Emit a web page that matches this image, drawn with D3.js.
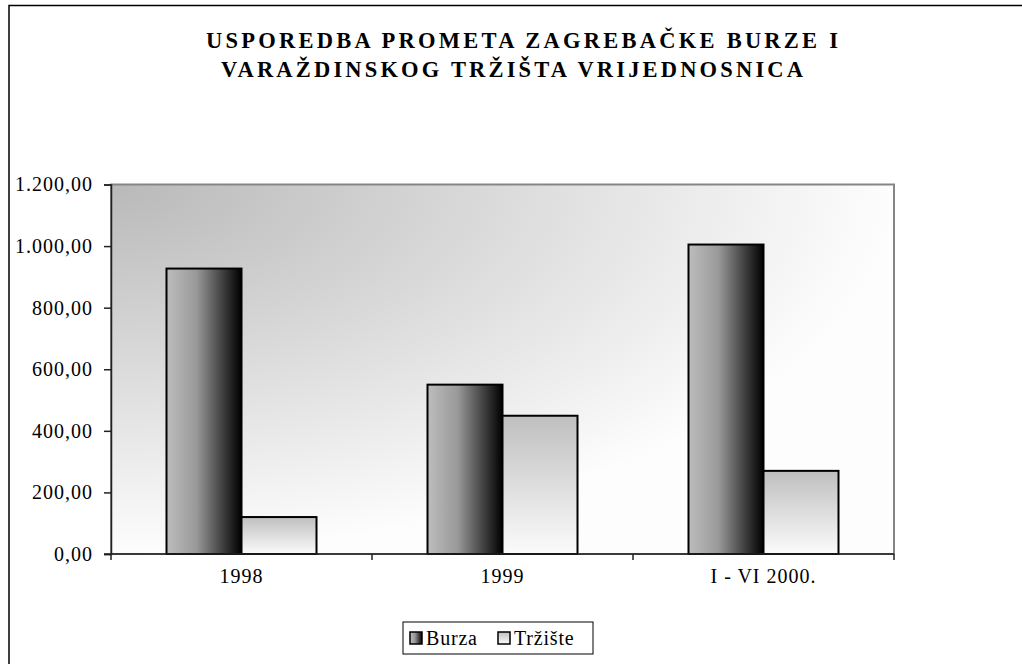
<!DOCTYPE html>
<html>
<head>
<meta charset="utf-8">
<script src="https://cdn.jsdelivr.net/npm/d3@7"></script>
<style>
  body { margin: 0; background: #fff; }
  text { font-family: "Liberation Serif", "Times New Roman", serif; fill: #000; }
</style>
</head>
<body>
<div id="chart"></div>
<script>
var categories = ["1998", "1999", "I - VI 2000."];
var seriesNames = ["Burza", "Tržište"];
var burza = [927, 550, 1005];
var trziste = [120, 449, 270];
var yTicks = [0, 200, 400, 600, 800, 1000, 1200];
var titleLines = ["USPOREDBA PROMETA ZAGREBAČKE BURZE I", "VARAŽDINSKOG TRŽIŠTA VRIJEDNOSNICA"];

var width = 1022, height = 664;
var plot = { left: 111, top: 184.5, right: 894, bottom: 554 };

var svg = d3.select("#chart").append("svg")
  .attr("width", width)
  .attr("height", height);

var defs = svg.append("defs");

// plot background: dark in the top-left corner, fading to white
var bg = defs.append("radialGradient").attr("id", "bgGrad")
  .attr("cx", 0).attr("cy", 0).attr("r", 1).attr("fx", 0).attr("fy", 0);
bg.append("stop").attr("offset", 0).attr("stop-color", "#b9b9b9");
bg.append("stop").attr("offset", 1).attr("stop-color", "#fdfdfd");

var gBurza = defs.append("linearGradient").attr("id", "burzaGrad")
  .attr("x1", 0).attr("y1", 0).attr("x2", 1).attr("y2", 0);
gBurza.append("stop").attr("offset", 0).attr("stop-color", "#bdbdbd");
gBurza.append("stop").attr("offset", 0.4).attr("stop-color", "#999");
gBurza.append("stop").attr("offset", 1).attr("stop-color", "#000");

var gTrz = defs.append("linearGradient").attr("id", "trzGrad")
  .attr("x1", 0).attr("y1", 0).attr("x2", 0).attr("y2", 1);
gTrz.append("stop").attr("offset", 0).attr("stop-color", "#bfbfbf");
gTrz.append("stop").attr("offset", 1).attr("stop-color", "#fbfbfb");

var fills = { "Burza": "url(#burzaGrad)", "Tržište": "url(#trzGrad)" };

// outer frame (runs past the window on the right and bottom)
svg.append("rect")
  .attr("x", 9).attr("y", 5.5)
  .attr("width", 1060).attr("height", 700)
  .attr("fill", "none").attr("stroke", "#000").attr("stroke-width", 1.5);

// title
svg.append("g").selectAll("text")
  .data(titleLines)
  .enter().append("text")
  .attr("x", (d, i) => i === 0 ? 206 : 221)
  .attr("y", (d, i) => 48 + i * 29)
  .attr("textLength", (d, i) => i === 0 ? 632 : 582)
  .attr("lengthAdjust", "spacing")
  .style("font-size", "22.5px")
  .style("font-weight", "bold")
  .text(d => d);

var x = d3.scaleBand()
  .domain(categories)
  .range([plot.left, plot.right])
  .paddingInner(111 / 261)
  .paddingOuter(55.5 / 261);

var xSub = d3.scaleBand()
  .domain(seriesNames)
  .range([0, x.bandwidth()]);

var y = d3.scaleLinear()
  .domain([0, 1200])
  .range([plot.bottom, plot.top]);

// plot area
svg.append("rect")
  .attr("x", plot.left).attr("y", plot.top)
  .attr("width", plot.right - plot.left).attr("height", plot.bottom - plot.top)
  .attr("fill", "url(#bgGrad)")
  .attr("stroke", "#858585").attr("stroke-width", 2);

var hr = d3.formatLocale({ decimal: ",", thousands: ".", grouping: [3], currency: ["", ""] });
var fmt = hr.format(",.2f");

// bars
var rows = categories.map((c, i) => ({ cat: c, values: [
  { name: "Burza", value: burza[i] },
  { name: "Tržište", value: trziste[i] }
] }));

svg.append("g").selectAll("g")
  .data(rows)
  .enter().append("g")
  .attr("transform", d => "translate(" + x(d.cat) + ",0)")
  .selectAll("rect")
  .data(d => d.values)
  .enter().append("rect")
  .attr("x", d => xSub(d.name))
  .attr("y", d => y(d.value))
  .attr("width", xSub.bandwidth())
  .attr("height", d => y(0) - y(d.value))
  .attr("fill", d => fills[d.name])
  .attr("stroke", "#000")
  .attr("stroke-width", 2);

// y axis
var yAxis = svg.append("g")
  .attr("transform", "translate(" + plot.left + ",0)")
  .call(d3.axisLeft(y).tickValues(yTicks).tickFormat(fmt).tickSize(7).tickPadding(11));
yAxis.select(".domain").attr("stroke", "#222").attr("stroke-width", 1.5);
yAxis.selectAll(".tick line").attr("stroke", "#222").attr("stroke-width", 1.5);
yAxis.selectAll("text")
  .style("font-size", "20px")
  .style("letter-spacing", "1px")
  .attr("font-family", null);

// x axis: ticks at category boundaries
var step = x.step();
var bounds = categories.map(c => x(c) - (step - x.bandwidth()) / 2).concat([plot.right]);
var xAxis = svg.append("g");
xAxis.append("line")
  .attr("x1", plot.left - 7).attr("x2", plot.right)
  .attr("y1", plot.bottom).attr("y2", plot.bottom)
  .attr("stroke", "#222").attr("stroke-width", 1.5);
xAxis.selectAll("line.tick")
  .data(bounds)
  .enter().append("line")
  .attr("class", "tick")
  .attr("x1", d => d).attr("x2", d => d)
  .attr("y1", plot.bottom).attr("y2", plot.bottom + 6)
  .attr("stroke", "#222").attr("stroke-width", 1.5);
xAxis.selectAll("text")
  .data(categories)
  .enter().append("text")
  .attr("x", d => x(d) + x.bandwidth() / 2)
  .attr("y", plot.bottom + 29)
  .attr("text-anchor", "middle")
  .style("font-size", "20px")
  .style("letter-spacing", "1px")
  .text(d => d);

// legend
var legend = svg.append("g").attr("transform", "translate(403,622)");
legend.append("rect")
  .attr("width", 190).attr("height", 32)
  .attr("fill", "#fff").attr("stroke", "#000").attr("stroke-width", 1);
var legendX = [7, 95];
var items = legend.selectAll("g.item")
  .data(seriesNames)
  .enter().append("g")
  .attr("class", "item")
  .attr("transform", (d, i) => "translate(" + legendX[i] + ",10)");
items.append("rect")
  .attr("width", 12).attr("height", 12)
  .attr("fill", d => fills[d])
  .attr("stroke", "#000").attr("stroke-width", 1.5);
items.append("text")
  .attr("x", 16).attr("y", 13)
  .style("font-size", "20px")
  .style("letter-spacing", "0.8px")
  .text(d => d);
</script>
</body>
</html>
